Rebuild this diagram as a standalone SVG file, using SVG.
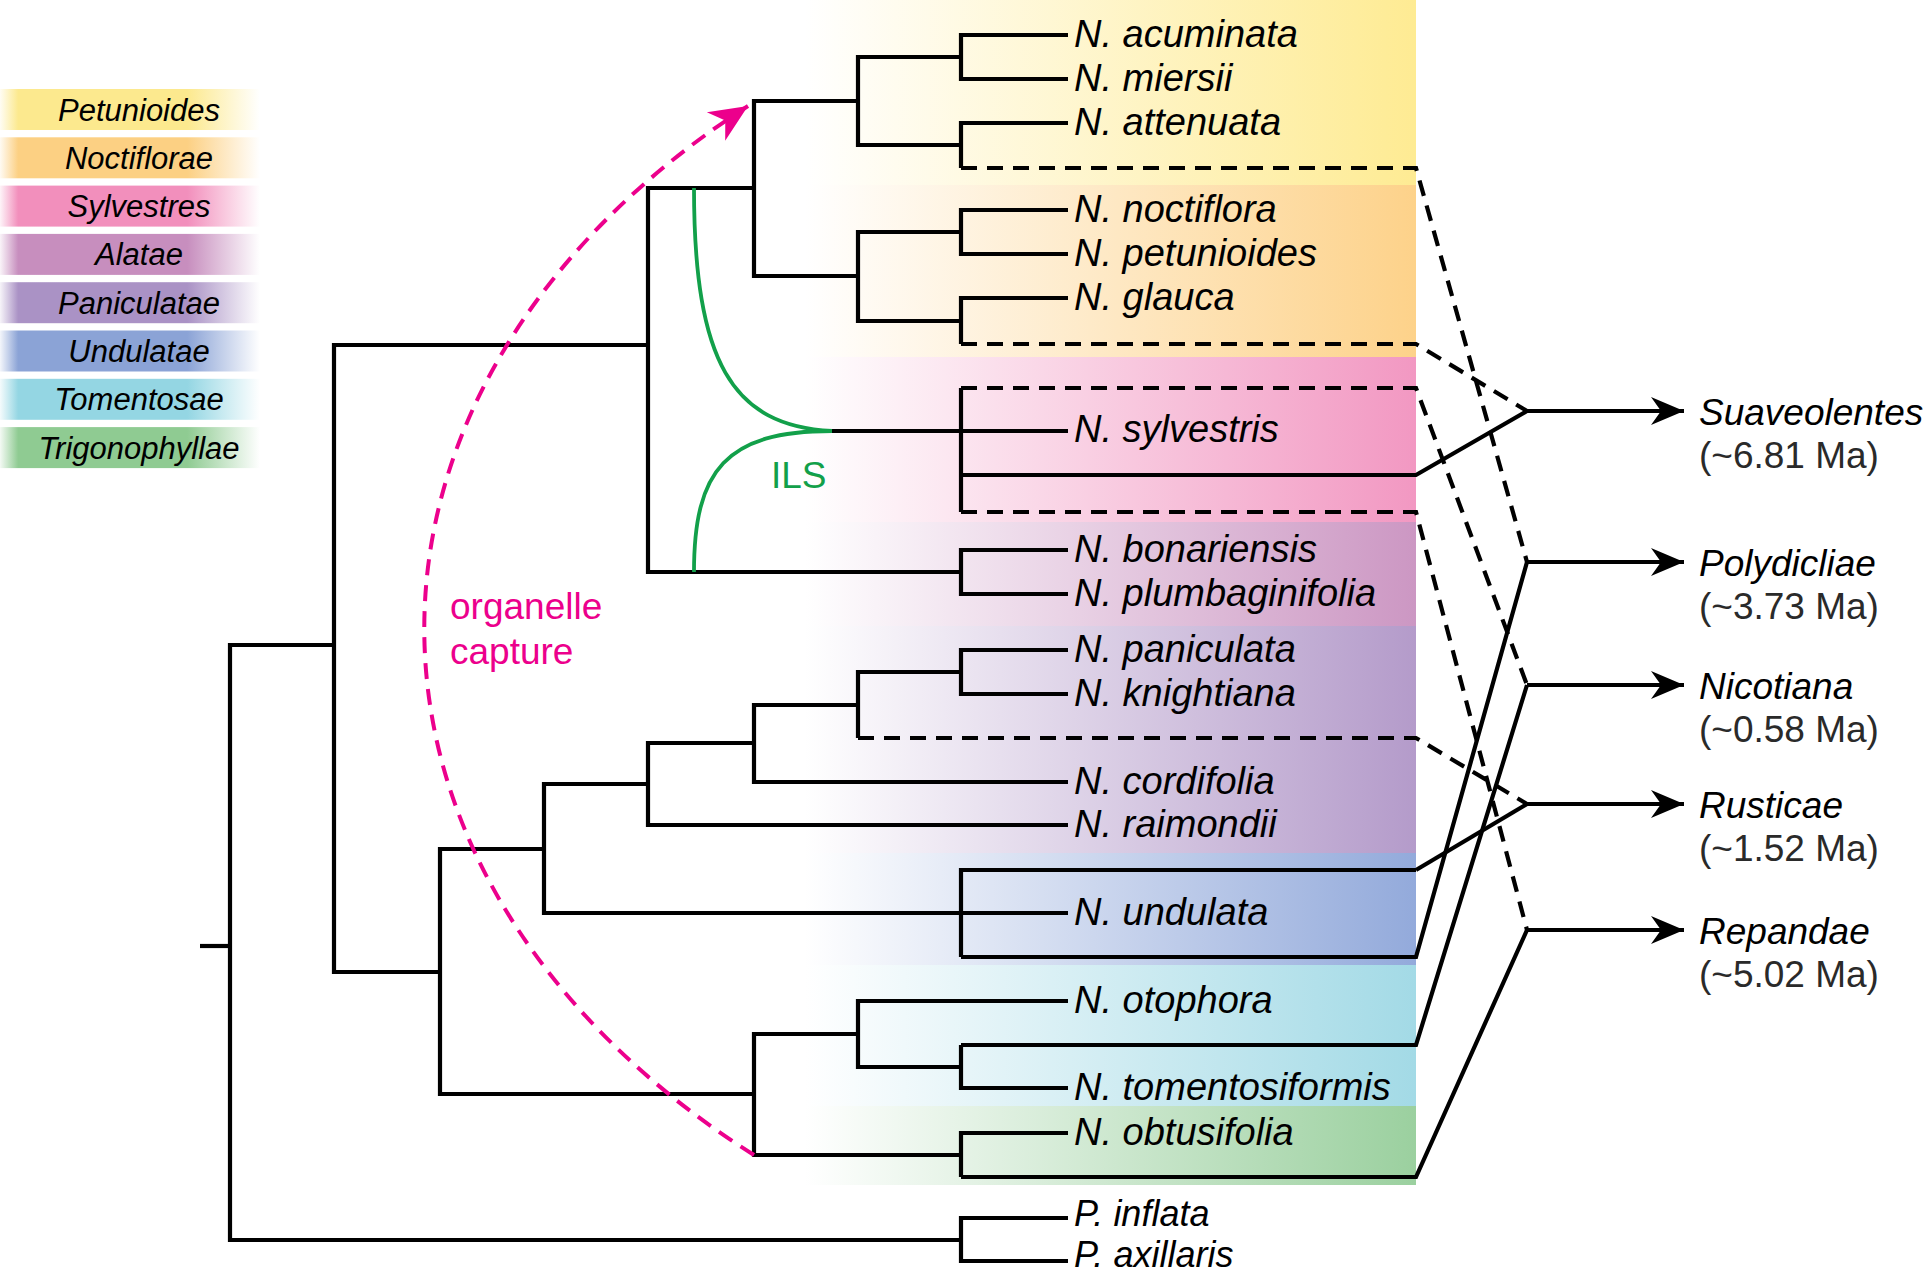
<svg xmlns="http://www.w3.org/2000/svg" width="1925" height="1276" viewBox="0 0 1925 1276">
<defs>
<style>
.t{fill:none;stroke:#000;stroke-width:4.2;stroke-linejoin:miter;stroke-linecap:butt}
.d{fill:none;stroke:#000;stroke-width:4.2;stroke-dasharray:16 10;stroke-linejoin:miter}
.ils{fill:none;stroke:#12A04A;stroke-width:3.8}
.oc{fill:none;stroke:#EC008C;stroke-width:4;stroke-dasharray:16 10}
.lf{font-family:"Liberation Sans",Arial,sans-serif;font-style:italic;font-size:38px;fill:#000}
.lp{font-family:"Liberation Sans",Arial,sans-serif;font-style:italic;font-size:36px;fill:#000}
.lg{font-family:"Liberation Sans",Arial,sans-serif;font-style:italic;font-size:31px;fill:#000;text-anchor:middle}
.cn{font-family:"Liberation Sans",Arial,sans-serif;font-style:italic;font-size:37px;fill:#000}
.age{font-family:"Liberation Sans",Arial,sans-serif;font-size:37px;fill:#2a2a2a}
.pk{font-family:"Liberation Sans",Arial,sans-serif;font-size:37px;fill:#EC008C}
.gr{font-family:"Liberation Sans",Arial,sans-serif;font-size:37px;fill:#12A04A}
</style>
<linearGradient id="bY" x1="0" x2="1" y1="0" y2="0"><stop offset="0" stop-color="#FEEB93" stop-opacity="0"/><stop offset="1" stop-color="#FEEB93"/></linearGradient>
<linearGradient id="bO" x1="0" x2="1" y1="0" y2="0"><stop offset="0" stop-color="#FDD28A" stop-opacity="0"/><stop offset="1" stop-color="#FDD28A"/></linearGradient>
<linearGradient id="bP" x1="0" x2="1" y1="0" y2="0"><stop offset="0" stop-color="#F298C2" stop-opacity="0"/><stop offset="1" stop-color="#F298C2"/></linearGradient>
<linearGradient id="bA" x1="0" x2="1" y1="0" y2="0"><stop offset="0" stop-color="#CC97C3" stop-opacity="0"/><stop offset="1" stop-color="#CC97C3"/></linearGradient>
<linearGradient id="bN" x1="0" x2="1" y1="0" y2="0"><stop offset="0" stop-color="#B49BCA" stop-opacity="0"/><stop offset="1" stop-color="#B49BCA"/></linearGradient>
<linearGradient id="bU" x1="0" x2="1" y1="0" y2="0"><stop offset="0" stop-color="#93AADB" stop-opacity="0"/><stop offset="1" stop-color="#93AADB"/></linearGradient>
<linearGradient id="bT" x1="0" x2="1" y1="0" y2="0"><stop offset="0" stop-color="#A3DAE6" stop-opacity="0"/><stop offset="1" stop-color="#A3DAE6"/></linearGradient>
<linearGradient id="bG" x1="0" x2="1" y1="0" y2="0"><stop offset="0" stop-color="#9BD09F" stop-opacity="0"/><stop offset="1" stop-color="#9BD09F"/></linearGradient>
<linearGradient id="lY" x1="0" x2="1" y1="0" y2="0"><stop offset="0" stop-color="#FCE98E" stop-opacity="0.1"/><stop offset="0.07" stop-color="#FCE98E"/><stop offset="0.72" stop-color="#FCE98E"/><stop offset="1" stop-color="#FCE98E" stop-opacity="0"/></linearGradient>
<linearGradient id="lO" x1="0" x2="1" y1="0" y2="0"><stop offset="0" stop-color="#FCD083" stop-opacity="0.1"/><stop offset="0.07" stop-color="#FCD083"/><stop offset="0.72" stop-color="#FCD083"/><stop offset="1" stop-color="#FCD083" stop-opacity="0"/></linearGradient>
<linearGradient id="lP" x1="0" x2="1" y1="0" y2="0"><stop offset="0" stop-color="#F28FBC" stop-opacity="0.1"/><stop offset="0.07" stop-color="#F28FBC"/><stop offset="0.72" stop-color="#F28FBC"/><stop offset="1" stop-color="#F28FBC" stop-opacity="0"/></linearGradient>
<linearGradient id="lA" x1="0" x2="1" y1="0" y2="0"><stop offset="0" stop-color="#C78EBE" stop-opacity="0.1"/><stop offset="0.07" stop-color="#C78EBE"/><stop offset="0.72" stop-color="#C78EBE"/><stop offset="1" stop-color="#C78EBE" stop-opacity="0"/></linearGradient>
<linearGradient id="lN" x1="0" x2="1" y1="0" y2="0"><stop offset="0" stop-color="#AA92C5" stop-opacity="0.1"/><stop offset="0.07" stop-color="#AA92C5"/><stop offset="0.72" stop-color="#AA92C5"/><stop offset="1" stop-color="#AA92C5" stop-opacity="0"/></linearGradient>
<linearGradient id="lU" x1="0" x2="1" y1="0" y2="0"><stop offset="0" stop-color="#8BA3D6" stop-opacity="0.1"/><stop offset="0.07" stop-color="#8BA3D6"/><stop offset="0.72" stop-color="#8BA3D6"/><stop offset="1" stop-color="#8BA3D6" stop-opacity="0"/></linearGradient>
<linearGradient id="lT" x1="0" x2="1" y1="0" y2="0"><stop offset="0" stop-color="#94D6E3" stop-opacity="0.1"/><stop offset="0.07" stop-color="#94D6E3"/><stop offset="0.72" stop-color="#94D6E3"/><stop offset="1" stop-color="#94D6E3" stop-opacity="0"/></linearGradient>
<linearGradient id="lG" x1="0" x2="1" y1="0" y2="0"><stop offset="0" stop-color="#8FCB92" stop-opacity="0.1"/><stop offset="0.07" stop-color="#8FCB92"/><stop offset="0.72" stop-color="#8FCB92"/><stop offset="1" stop-color="#8FCB92" stop-opacity="0"/></linearGradient>
<marker id="ah" viewBox="-34 -16 36 32" refX="0" refY="0" markerWidth="36" markerHeight="32" markerUnits="userSpaceOnUse" orient="auto"><path d="M0,0 L-33,-14 L-23,0 L-33,14 Z" fill="#000"/></marker>
<marker id="ahp" viewBox="-42 -19 44 38" refX="0" refY="0" markerWidth="44" markerHeight="38" markerUnits="userSpaceOnUse" orient="auto"><path d="M0,0 L-38,-17 L-27,0 L-38,17 Z" fill="#EC008C"/></marker>
</defs>

<g id="bands">
<rect x="805" y="0" width="611" height="185" fill="url(#bY)"/>
<rect x="805" y="185" width="611" height="172" fill="url(#bO)"/>
<rect x="805" y="357" width="611" height="165" fill="url(#bP)"/>
<rect x="805" y="522" width="611" height="104" fill="url(#bA)"/>
<rect x="805" y="626" width="611" height="227" fill="url(#bN)"/>
<rect x="805" y="853" width="611" height="112" fill="url(#bU)"/>
<rect x="805" y="965" width="611" height="141" fill="url(#bT)"/>
<rect x="805" y="1106" width="611" height="79" fill="url(#bG)"/>
</g>

<g id="legend">
<g id="leg-petunioides"><rect x="0" y="89" width="260" height="41" fill="url(#lY)"/><text class="lg" x="139" y="120.5">Petunioides</text></g>
<g id="leg-noctiflorae"><rect x="0" y="137.3" width="260" height="41" fill="url(#lO)"/><text class="lg" x="139" y="168.8">Noctiflorae</text></g>
<g id="leg-sylvestres"><rect x="0" y="185.6" width="260" height="41" fill="url(#lP)"/><text class="lg" x="139" y="217.1">Sylvestres</text></g>
<g id="leg-alatae"><rect x="0" y="233.9" width="260" height="41" fill="url(#lA)"/><text class="lg" x="139" y="265.4">Alatae</text></g>
<g id="leg-paniculatae"><rect x="0" y="282.2" width="260" height="41" fill="url(#lN)"/><text class="lg" x="139" y="313.7">Paniculatae</text></g>
<g id="leg-undulatae"><rect x="0" y="330.5" width="260" height="41" fill="url(#lU)"/><text class="lg" x="139" y="362">Undulatae</text></g>
<g id="leg-tomentosae"><rect x="0" y="378.8" width="260" height="41" fill="url(#lT)"/><text class="lg" x="139" y="410.3">Tomentosae</text></g>
<g id="leg-trigonophyllae"><rect x="0" y="427.1" width="260" height="41" fill="url(#lG)"/><text class="lg" x="139" y="458.6">Trigonophyllae</text></g>
</g>

<g id="connectors">
<g id="tree">
<path class="t" d="M200,946 H230"/>
<path class="t" d="M334,645 H230 V1240 H961"/>
<path class="t" d="M1068,1218 H961 V1261 H1068"/>
<path class="t" d="M648,345 H334 V972 H440"/>
<path class="t" d="M754,188 H648 V572 H961"/>
<path class="t" d="M1068,550 H961 V594 H1068"/>
<path class="t" d="M858,101 H754 V276 H858"/>
<path class="t" d="M961,57 H858 V145 H961"/>
<path class="t" d="M1068,35 H961 V79 H1068"/>
<path class="t" d="M1068,123 H961 V168"/>
<path class="t" d="M961,232 H858 V321 H961"/>
<path class="t" d="M1068,210 H961 V254 H1068"/>
<path class="t" d="M1068,298 H961 V344"/>
<path class="t" d="M832,431 H1068"/>
<path class="t" d="M961,388 V512"/>
<path class="t" d="M544,849 H440 V1094 H754"/>
<path class="t" d="M648,784 H544 V913 H1068"/>
<path class="t" d="M754,743 H648 V825 H1068"/>
<path class="t" d="M858,705 H754 V782 H1068"/>
<path class="t" d="M961,672 H858 V738"/>
<path class="t" d="M1068,650 H961 V694 H1068"/>
<path class="t" d="M1416,870 H961 V957"/>
<path class="t" d="M858,1034 H754 V1155 H961"/>
<path class="t" d="M1068,1001 H858 V1067 H961"/>
<path class="t" d="M961,1045 V1088 H1068"/>
<path class="t" d="M1068,1133 H961 V1177"/>
</g>
<g id="links">
<path class="d" d="M961,168 H1416 L1527,562"/>
<path class="d" d="M961,344 H1416 L1527,411"/>
<path class="d" d="M961,388 H1416 L1527,685"/>
<path class="t" d="M961,475 H1416 L1527,411"/>
<path class="d" d="M961,512 H1416 L1527,930"/>
<path class="d" d="M858,738 H1416 L1527,804"/>
<path class="t" d="M1416,870 L1527,804"/>
<path class="t" d="M961,957 H1416 L1527,562"/>
<path class="t" d="M961,1045 H1416 L1527,685"/>
<path class="t" d="M961,1177 H1416 L1527,930"/>
<path class="t" d="M1527,411 H1684" marker-end="url(#ah)"/>
<path class="t" d="M1527,562 H1684" marker-end="url(#ah)"/>
<path class="t" d="M1527,685 H1684" marker-end="url(#ah)"/>
<path class="t" d="M1527,804 H1684" marker-end="url(#ah)"/>
<path class="t" d="M1527,930 H1684" marker-end="url(#ah)"/>
</g>
<g id="ils-curves">
<path class="ils" d="M694,188 C694,362 732,426 832,431"/>
<path class="ils" d="M694,572 C694,470 726,431 832,431"/>
</g>
<g id="organelle-capture-arrow">
<path class="oc" d="M754,1155 A950,695 0 0 1 748,106" marker-end="url(#ahp)"/>
</g>
</g>

<g id="annotations">
<g id="ils"><text class="gr" x="771" y="488">ILS</text></g>
<g id="organelle-capture"><text class="pk" x="450" y="619">organelle</text><text class="pk" x="450" y="664">capture</text></g>
</g>

<g id="leaves">
<g id="n-acuminata"><text class="lf" x="1074" y="47">N. acuminata</text></g>
<g id="n-miersii"><text class="lf" x="1074" y="91">N. miersii</text></g>
<g id="n-attenuata"><text class="lf" x="1074" y="135">N. attenuata</text></g>
<g id="n-noctiflora"><text class="lf" x="1074" y="222">N. noctiflora</text></g>
<g id="n-petunioides"><text class="lf" x="1074" y="266">N. petunioides</text></g>
<g id="n-glauca"><text class="lf" x="1074" y="310">N. glauca</text></g>
<g id="n-sylvestris"><text class="lf" x="1074" y="442">N. sylvestris</text></g>
<g id="n-bonariensis"><text class="lf" x="1074" y="562">N. bonariensis</text></g>
<g id="n-plumbaginifolia"><text class="lf" x="1074" y="606">N. plumbaginifolia</text></g>
<g id="n-paniculata"><text class="lf" x="1074" y="662">N. paniculata</text></g>
<g id="n-knightiana"><text class="lf" x="1074" y="706">N. knightiana</text></g>
<g id="n-cordifolia"><text class="lf" x="1074" y="794">N. cordifolia</text></g>
<g id="n-raimondii"><text class="lf" x="1074" y="837">N. raimondii</text></g>
<g id="n-undulata"><text class="lf" x="1074" y="925">N. undulata</text></g>
<g id="n-otophora"><text class="lf" x="1074" y="1013">N. otophora</text></g>
<g id="n-tomentosiformis"><text class="lf" x="1074" y="1100">N. tomentosiformis</text></g>
<g id="n-obtusifolia"><text class="lf" x="1074" y="1145">N. obtusifolia</text></g>
<g id="p-inflata"><text class="lp" x="1074" y="1226">P. inflata</text></g>
<g id="p-axillaris"><text class="lp" x="1074" y="1267">P. axillaris</text></g>
</g>

<g id="sections">
<g id="suaveolentes"><text class="cn" x="1699" y="425">Suaveolentes</text><text class="age" x="1699" y="468">(~6.81 Ma)</text></g>
<g id="polydicliae"><text class="cn" x="1699" y="576">Polydicliae</text><text class="age" x="1699" y="619">(~3.73 Ma)</text></g>
<g id="nicotiana"><text class="cn" x="1699" y="699">Nicotiana</text><text class="age" x="1699" y="742">(~0.58 Ma)</text></g>
<g id="rusticae"><text class="cn" x="1699" y="818">Rusticae</text><text class="age" x="1699" y="861">(~1.52 Ma)</text></g>
<g id="repandae"><text class="cn" x="1699" y="944">Repandae</text><text class="age" x="1699" y="987">(~5.02 Ma)</text></g>
</g>
</svg>
